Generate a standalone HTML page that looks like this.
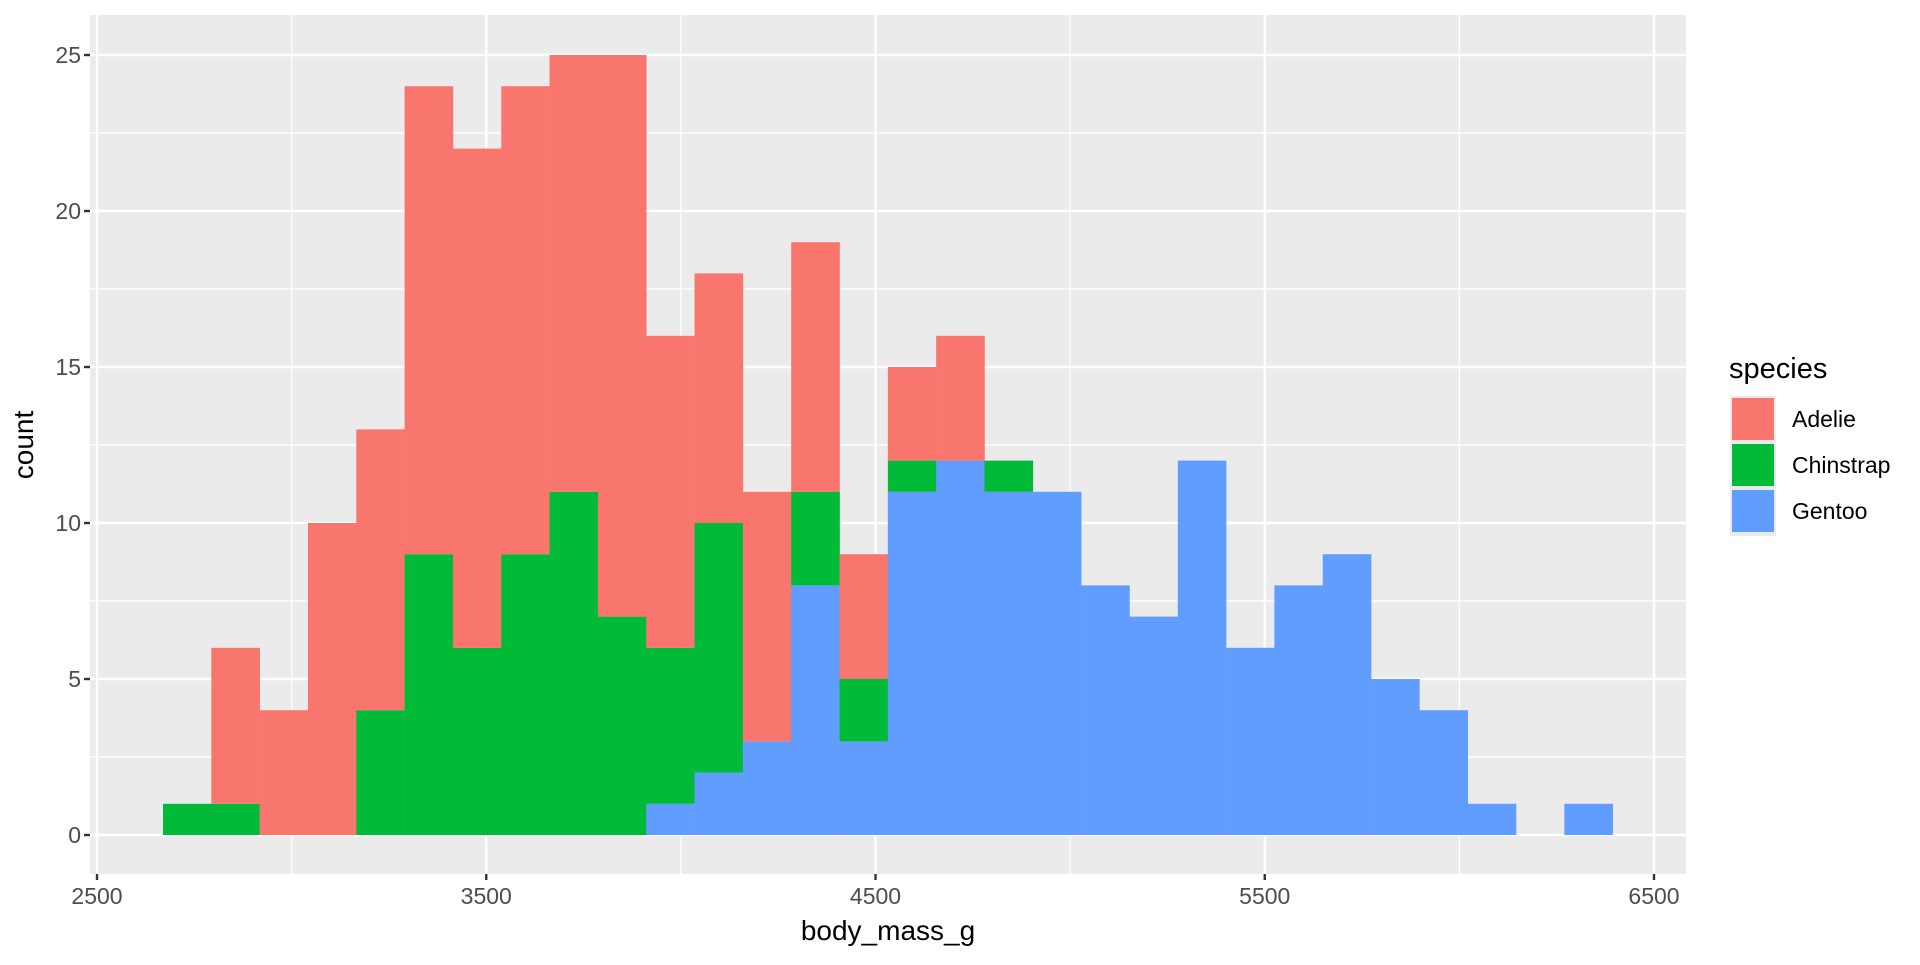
<!DOCTYPE html>
<html><head><meta charset="utf-8"><style>
body{margin:0;background:#fff;font-family:"Liberation Sans",sans-serif}
svg text{font-family:"Liberation Sans",sans-serif}
</style></head><body>
<svg id="chart" width="1920" height="960" xmlns="http://www.w3.org/2000/svg">
<rect x="90" y="15" width="1596" height="859" fill="#ebebeb"/>
<g id="grid"></g><g id="bars"></g><g id="axes"></g>
<text x="888" y="940" font-size="28" text-anchor="middle" fill="#000">body_mass_g</text>
<text transform="translate(33,445) rotate(-90)" font-size="28" text-anchor="middle" fill="#000">count</text>
<g>
<text x="1729" y="378" font-size="29" fill="#000">species</text>
<rect x="1730" y="396" width="46" height="140" fill="#ebebeb"/>
<rect x="1732" y="398" width="42" height="42" fill="#F8766D"/>
<rect x="1732" y="444" width="42" height="42" fill="#00BA38"/>
<rect x="1732" y="490" width="42" height="42" fill="#619CFF"/>
<text x="1792" y="427" font-size="23">Adelie</text>
<text x="1792" y="473" font-size="23">Chinstrap</text>
<text x="1792" y="519" font-size="23">Gentoo</text>
</g>
</svg>
<script>
const binStart = 2669.6;
const binWidth = 124.14;
const adelie =    [0,5,4,10,9,15,16,15,14,18,10,8,8,8,4,3,4,0,0,0,0,0,0,0,0,0,0,0,0,0];
const chinstrap = [1,1,0,0,4,9,6,9,11,7,5,8,0,3,2,1,0,1,0,0,0,0,0,0,0,0,0,0,0,0];
const gentoo =    [0,0,0,0,0,0,0,0,0,0,1,2,3,8,3,11,12,11,11,8,7,12,6,8,9,5,4,1,0,1];
const xTicks = [2500,3500,4500,5500,6500];
const yTicks = [0,5,10,15,20,25];
const NS="http://www.w3.org/2000/svg";
const X=v=>97+(v-2500)*(1557/4000);
const Y=v=>835-v*31.2;
const L=90,R=1686,T=15,B=874;
function mk(tag,attrs,parent){const e=document.createElementNS(NS,tag);for(const k in attrs)e.setAttribute(k,attrs[k]);parent.appendChild(e);return e;}
const grid=document.getElementById('grid'),bars=document.getElementById('bars'),axes=document.getElementById('axes');
for(let i=0;i<xTicks.length-1;i++){const m=(xTicks[i]+xTicks[i+1])/2;const l=mk('line',{x1:X(m),x2:X(m),y1:T,y2:B,stroke:'#fff','stroke-width':1.2},grid);

}
for(let i=0;i<yTicks.length-1;i++){const m=(yTicks[i]+yTicks[i+1])/2;const l=mk('line',{x1:L,x2:R,y1:Y(m),y2:Y(m),stroke:'#fff','stroke-width':1.2},grid);

}
xTicks.forEach(t=>{const l=mk('line',{x1:X(t),x2:X(t),y1:T,y2:B,stroke:'#fff','stroke-width':2.4},grid);


const k=mk('line',{x1:X(t),x2:X(t),y1:B,y2:B+6,stroke:'#333','stroke-width':2.4},axes);


const tx=mk('text',{x:X(t),y:B+30,'font-size':23,'text-anchor':'middle',fill:'#4d4d4d'},axes);tx.textContent=t;

});
yTicks.forEach(t=>{const l=mk('line',{x1:L,x2:R,y1:Y(t),y2:Y(t),stroke:'#fff','stroke-width':2.4},grid);


const k=mk('line',{x1:L-6,x2:L,y1:Y(t),y2:Y(t),stroke:'#333','stroke-width':2.4},axes);


const tx=mk('text',{x:L-9,y:Y(t)+8,'font-size':23,'text-anchor':'end',fill:'#4d4d4d'},axes);tx.textContent=t;

});
const series=[['gentoo',gentoo,'#619CFF'],['chinstrap',chinstrap,'#00BA38'],['adelie',adelie,'#F8766D']];
for(let i=0;i<gentoo.length;i++){let base=0;const x0=X(binStart+i*binWidth),x1=X(binStart+(i+1)*binWidth);
series.forEach(([n,arr,c])=>{const v=arr[i];if(v>0){const r=mk('rect',{x:x0,y:Y(base+v),width:x1-x0+0.3,height:Y(base)-Y(base+v),fill:c},bars);

}base+=v;});}
</script>
</body></html>
